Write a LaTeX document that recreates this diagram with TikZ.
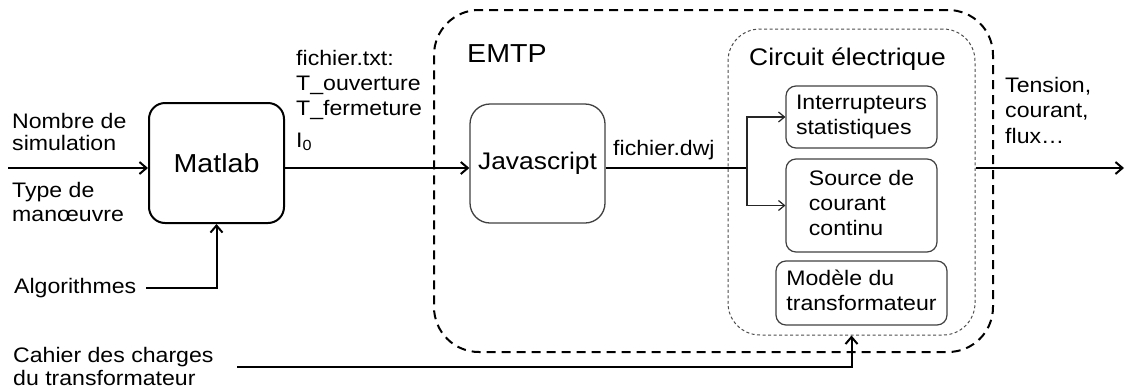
\documentclass[tikz,border=0pt]{standalone}
\usepackage{fontspec}
\setmainfont{Liberation Sans}[FakeStretch=1.1]
\usetikzlibrary{arrows.meta}
\newcommand{\lcol}[1]{\begin{tabular}{@{}l@{}}#1\end{tabular}}
\begin{document}
\begin{tikzpicture}[x=1pt,y=-1pt,
  txt/.style={font=\fontsize{21}{25}\selectfont, align=left, inner sep=0pt, anchor=north west, text=black},
  onel/.style={font=\fontsize{21}{25}\selectfont, inner sep=0pt, anchor=base west, text=black},
  bigtxt/.style={font=\fontsize{26}{30}\selectfont},
  mainline/.style={line width=2pt, black},
  thinline/.style={line width=1.2pt, black!85},
  arr/.style={-{Straight Barb[length=7pt,width=12pt]}},
  tarr/.style={-{Straight Barb[length=6pt,width=10pt]}},
  matbox/.style={draw=black, line width=2pt, rounded corners=16pt, inner sep=0pt, font=\fontsize{26}{30}\selectfont},
  jsbox/.style={draw=black!75, line width=1.3pt, rounded corners=20pt, inner sep=0pt, font=\fontsize{24}{28}\selectfont},
  subbox/.style={draw=black!75, line width=1.2pt, rounded corners=10pt, inner sep=0pt, font=\fontsize{21}{25}\selectfont},
  emtpbox/.style={draw=black, line width=2pt, dash pattern=on 9pt off 6pt, rounded corners=45pt, inner sep=0pt},
  circbox/.style={draw=black!70, line width=1pt, dash pattern=on 3pt off 2.5pt, rounded corners=32pt, inner sep=0pt}
]
\useasboundingbox (0,0) rectangle (1125,389);

% containers
\node[emtpbox, minimum width=559pt, minimum height=342pt] (emtp) at (713.5,181) {};
\node[circbox, minimum width=247pt, minimum height=306pt] (circ) at (851.5,182) {};

% boxes
\node[matbox, minimum width=135pt, minimum height=120pt] (matlab) at (216.5,163) {Matlab};
\node[jsbox, minimum width=135pt, minimum height=119pt] (js) at (537.5,163.5) {Javascript};
\node[subbox, minimum width=151pt, minimum height=62pt] (int) at (861.5,117) {\lcol{Interrupteurs\\statistiques}};
\node[subbox, minimum width=151pt, minimum height=93pt] (src) at (861.5,205.5) {\lcol{Source de\\courant\\continu}};
\node[subbox, minimum width=171pt, minimum height=64pt] (mod) at (861.5,293) {\lcol{Modèle du\\transformateur}};

% labels
\node[txt, font=\fontsize{21}{22}\selectfont] (nombre) at (12,113) {Nombre de\\simulation};
\node[txt, font=\fontsize{21}{24.5}\selectfont] (type) at (12,182) {Type de\\manœuvre};
\node[onel] (algo) at (14,293) {Algorithmes};
\node[txt, font=\fontsize{21}{23}\selectfont] (cahier) at (13,347) {Cahier des charges\\du transformateur};
\node[txt] (ftxt) at (296,50) {fichier.txt:\\T\_ouverture\\T\_fermeture\\[7pt]I\textsubscript{0}};
\node[onel, bigtxt] (emtpl) at (467,62) {EMTP};
\node[onel, font=\fontsize{24}{28}\selectfont] (circl) at (749,65) {Circuit électrique};
\node[onel] (fdwj) at (613,155) {fichier.dwj};
\node[txt, font=\fontsize{21}{25.5}\selectfont] (tension) at (1005,77) {Tension,\\courant,\\flux…};

% free ends
\coordinate (inS) at (8,168);
\coordinate (br) at (747,168);
\coordinate (outE) at (1124,168);
\coordinate (cahS) at (237,367);

% connectors
\draw[mainline,arr] (inS) -- (inS -| matlab.west);
\draw[mainline,arr] ([xshift=10pt]algo.east) -| (matlab.south);
\draw[mainline,arr] (matlab.east |- inS) -- (js.west |- inS);
\draw[mainline] (js.east |- br) -- (br);
\draw[thinline,tarr] (br) -- (br |- int.west) -- (int.west);
\draw[thinline,tarr] (br) -- (br |- src.west) -- (src.west);
\draw[mainline,arr] (circ.east |- br) -- (outE);
\draw[mainline,arr] (cahS) -| (circ.south);
\end{tikzpicture}
\end{document}
